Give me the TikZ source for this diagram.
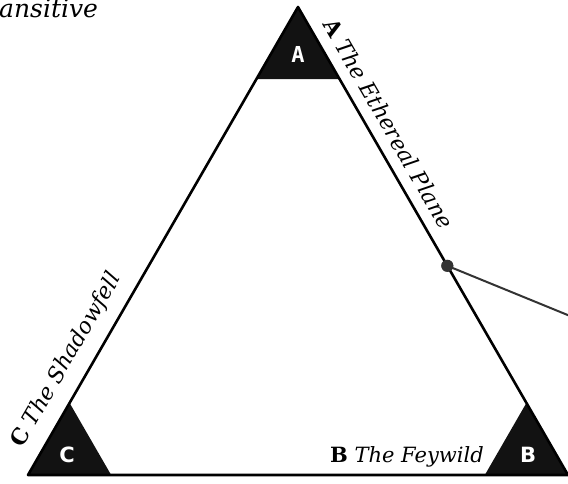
\documentclass[tikz,border=0pt]{standalone}
\usepackage{fontspec}
\setmainfont{DejaVu Serif}
\newfontfamily\cornerfont{DejaVu Sans Mono}
\newfontfamily\cornersans{DejaVu Sans}
\usetikzlibrary{calc}
\begin{document}
\begin{tikzpicture}[x=1pt,y=-1pt,
  edge/.style={line width=2.6pt, line join=round},
  corner/.style={fill=black!93},
  cornerlabel/.style={text=white, inner sep=0pt, font=\cornerfont\fontsize{22}{22}\selectfont\bfseries},
  cornerlabelsans/.style={text=white, inner sep=0pt, font=\cornersans\fontsize{21}{21}\selectfont\bfseries},
  sidelabel/.style={inner sep=0pt, font=\fontsize{22}{24}\selectfont\itshape},
  connector/.style={draw=black!80, line width=2pt},
  dotstyle/.style={circle, fill=black!80, minimum size=12pt, inner sep=0pt}]
\useasboundingbox (0,0) rectangle (568,484);
\coordinate (A) at (298,7);
\coordinate (B) at (568,475);
\coordinate (C) at (28,475);
% corner triangles
\fill[corner] (A) -- ($(A)!0.154!(C)$) -- ($(A)!0.154!(B)$) -- cycle;
\fill[corner] (C) -- ($(C)!0.154!(A)$) -- ($(C)!0.154!(B)$) -- cycle;
\fill[corner] (B) -- ($(B)!0.154!(A)$) -- ($(B)!0.154!(C)$) -- cycle;
% main triangle
\draw[edge] (A) -- (B) -- (C) -- cycle;
% corner letters
\node[cornerlabel] (la) at (298,54) {A};
\node[cornerlabelsans] (lc) at (67,455) {C};
\node[cornerlabelsans] (lb) at (528,455) {B};
% side labels
\node[sidelabel, rotate=-60, anchor=base west] (ta) at (322,24.5) {{\bfseries\upshape A} The Ethereal Plane};
\node[sidelabel, rotate=60, anchor=base west] (tc) at (22.4,448.7) {{\bfseries\upshape C} The Shadowfell};
\node[sidelabel, font=\fontsize{21}{24}\selectfont\itshape, anchor=base east] (tb) at (484,462) {{\bfseries\upshape B} The Feywild};
% top-left cropped title
\node[inner sep=0pt, anchor=base west, font=\fontsize{25}{28}\selectfont\itshape] (title) at (-1,18) {ansitive};
% connector
\node[dotstyle] (dot) at ($(A)!0.553!(B)$) {};
\coordinate (out) at (575,318);
\draw[connector] (dot.center) -- (out);
\node[dotstyle] at (dot.center) {};
\end{tikzpicture}
\end{document}
